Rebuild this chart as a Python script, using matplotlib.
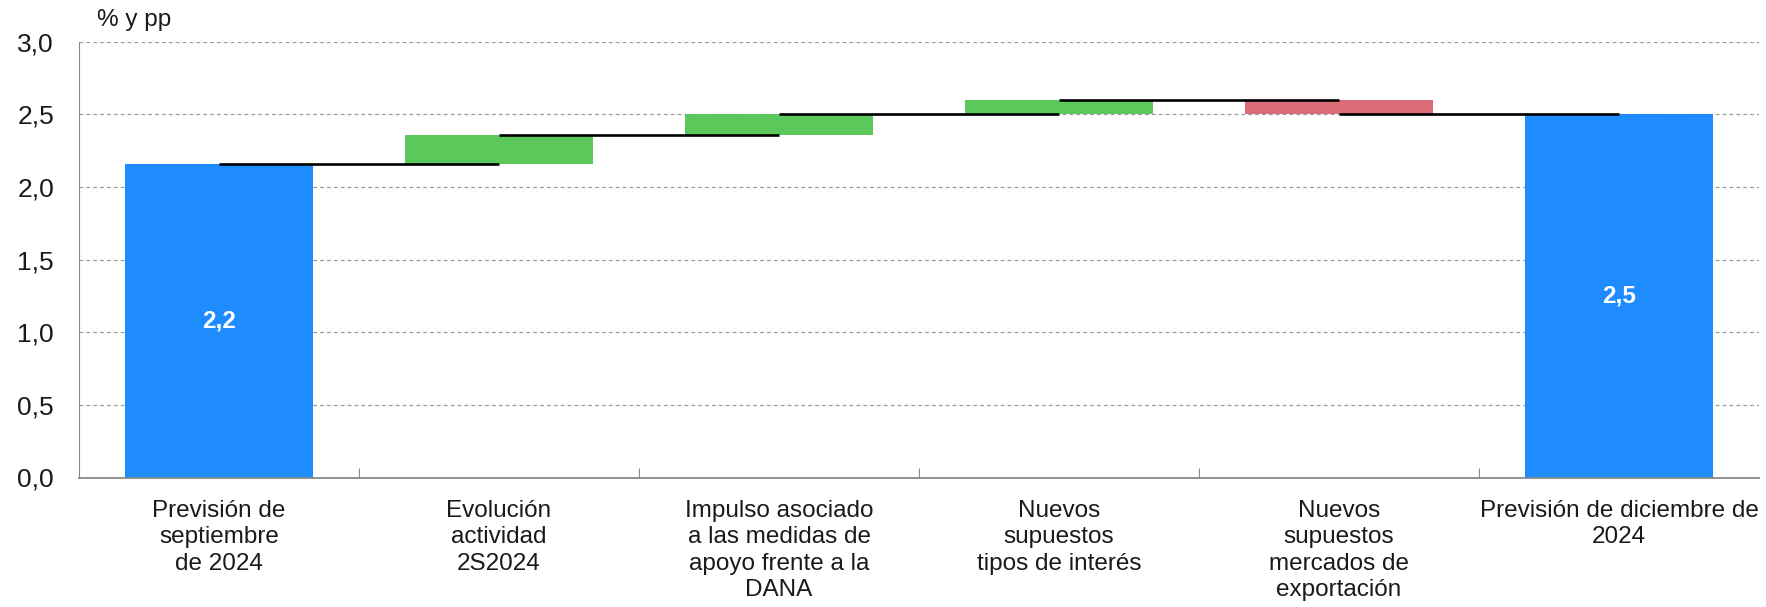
import matplotlib
matplotlib.use("Agg")
import matplotlib.pyplot as plt
from matplotlib.ticker import FixedLocator, MultipleLocator, FuncFormatter
import numpy as np

# ---- data ----
categories = [
    "Previsión de\nseptiembre\nde 2024",
    "Evolución\nactividad\n2S2024",
    "Impulso asociado\na las medidas de\napoyo frente a la\nDANA",
    "Nuevos\nsupuestos\ntipos de interés",
    "Nuevos\nsupuestos\nmercados de\nexportación",
    "Previsión de diciembre de\n2024",
]
start_value = 2.16
deltas = [0.20, 0.14, 0.10, -0.10]
final_value = 2.50
start_label = "2,2"
final_label = "2,5"
unit_label = "% y pp"

BLUE = "#1E8BFF"
GREEN = "#5CC85C"
RED = "#DB6B78"
TEXT = "#1a1a1a"

plt.rcParams['font.family'] = ['Liberation Sans', 'DejaVu Sans']

fig = plt.figure(figsize=(17.66, 6.07), dpi=100)
ax = fig.add_axes([79/1766, 1-477.5/607, (1759-79)/1766, (477.5-41.7)/607])

x = np.arange(len(categories))
w = 0.67

# cumulative levels
levels = [start_value]
for d in deltas:
    levels.append(levels[-1] + d)

# start and final bars
ax.bar(x[0], start_value, width=w, color=BLUE, zorder=2)
ax.bar(x[-1], final_value, width=w, color=BLUE, zorder=2)

# delta bars
for i, d in enumerate(deltas):
    bottom = levels[i] if d >= 0 else levels[i] + d
    ax.bar(x[i+1], abs(d), bottom=bottom, width=w,
           color=GREEN if d >= 0 else RED, zorder=2)

# connector lines
for i in range(len(levels)):
    ax.hlines(levels[i], x[i], x[i+1], colors="black", linewidth=1.9, zorder=3)

# value labels
ax.text(x[0], start_value/2, start_label, ha="center", va="center",
        color="white", fontsize=17.5, fontweight="bold", zorder=4)
ax.text(x[-1], final_value/2, final_label, ha="center", va="center",
        color="white", fontsize=17.5, fontweight="bold", zorder=4)

ax.set_xlim(-0.5, len(categories)-0.5)
ax.set_ylim(0, 3.0)
ax.yaxis.set_major_locator(MultipleLocator(0.5))
ax.yaxis.set_major_formatter(FuncFormatter(lambda v, p: f"{v:.1f}".replace(".", ",")))
ax.grid(axis="y", color="#9a9a9a", linestyle=(0, (3, 2.5)), linewidth=0.9, zorder=0)
ax.set_axisbelow(True)

ax.set_xticks(x)
ax.set_xticklabels(categories, fontsize=17.5, color=TEXT, linespacing=1.24)
ax.xaxis.set_minor_locator(FixedLocator(np.arange(0.5, len(categories)-1, 1.0)))
ax.tick_params(axis="x", which="major", length=0, pad=16.5)
ax.tick_params(axis="x", which="minor", direction="in", length=7, width=0.8, color="#888888")
ax.tick_params(axis="y", length=0, pad=18, labelsize=19, labelcolor=TEXT)

for s in ["top", "right"]:
    ax.spines[s].set_visible(False)
ax.spines["left"].set_color("#888888")
ax.spines["left"].set_linewidth(0.8)
ax.spines["bottom"].set_color("#888888")
ax.spines["bottom"].set_linewidth(1.3)

fig.text(97/1766, 1-9/607, unit_label, ha="left", va="top", fontsize=17.5, color=TEXT)

fig.savefig("out.png", dpi=100)
